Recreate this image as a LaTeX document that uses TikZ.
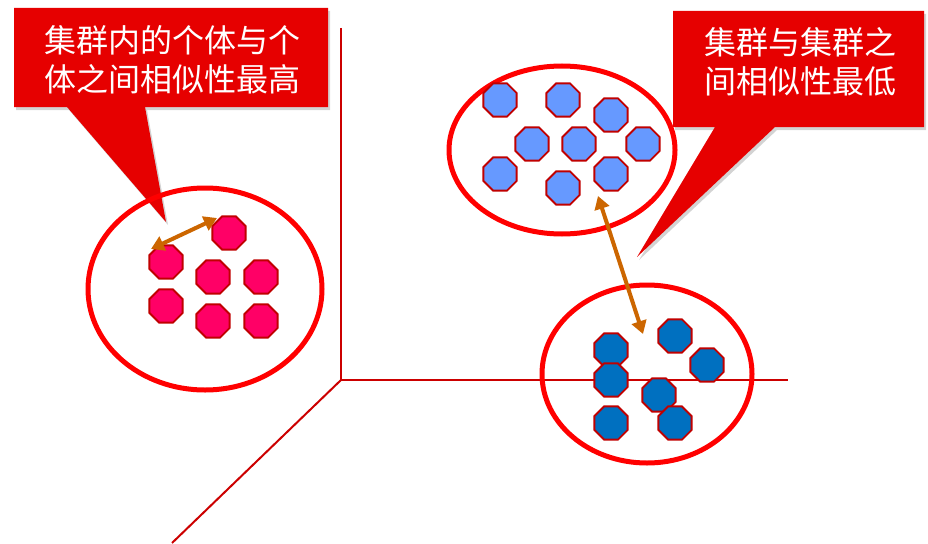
\documentclass[tikz,border=0pt]{standalone}
\usepackage{fontspec}
\newfontfamily\cjk{Noto Sans CJK SC}
\usetikzlibrary{shapes.geometric,shadows,arrows.meta}
\definecolor{axisred}{HTML}{CC0000}
\definecolor{ringred}{HTML}{FF0000}
\definecolor{calloutred}{HTML}{E60000}
\definecolor{pinkfill}{HTML}{FF0066}
\definecolor{lightblue}{HTML}{6699FF}
\definecolor{darkblue}{HTML}{0070C0}
\definecolor{edgered}{HTML}{C00000}
\definecolor{arrowbrown}{HTML}{CC6600}
\tikzset{
  oct/.style={regular polygon, regular polygon sides=8, minimum size=36pt, inner sep=0pt, draw=edgered, line width=1.8pt},
  pinkoct/.style={oct, fill=pinkfill},
  lboct/.style={oct, fill=lightblue},
  dboct/.style={oct, fill=darkblue},
  ring/.style={draw=ringred, line width=5pt},
  axis/.style={draw=axisred, line width=2pt},
  callout/.style={fill=calloutred, drop shadow={shadow xshift=2pt, shadow yshift=-3pt, opacity=0.35}},
  callouttext/.style={text=white, align=center, font=\cjk\fontsize{32}{39}\selectfont},
  link/.style={draw=arrowbrown, line width=4pt, {Triangle[length=13pt,width=15pt]}-{Triangle[length=13pt,width=15pt]}}
}
\begin{document}
\begin{tikzpicture}[x=1pt,y=-1pt]
\useasboundingbox (0,0) rectangle (928,543);
% axes
\coordinate (O) at (341,380);
\coordinate (Ytop) at (341,28);
\coordinate (Xend) at (788,380);
\coordinate (Zend) at (172,543);
\draw[axis] (Ytop) -- (O) -- (Xend);
\draw[axis] (O) -- (Zend);
% callouts
\path[callout] (14,8) -- (328,8) -- (328,107) -- (145,107) -- (166,222) -- (67,107) -- (14,107) -- cycle;
\node[callouttext] (lt) at (172,60) {集群内的个体与个\\体之间相似性最高};
\path[callout] (673,11) -- (924,11) -- (924,127) -- (775,127) -- (637,257) -- (715,127) -- (673,127) -- cycle;
\node[callouttext] (rt) at (800,62) {集群与集群之\\间相似性最低};
% rings
\draw[ring] (205,289) ellipse [x radius=117, y radius=101];
\draw[ring] (562,150) ellipse [x radius=113, y radius=84];
\draw[ring] (647,374) ellipse [x radius=105, y radius=89];
% pink cluster
\node[pinkoct] (p1) at (229,233) {};
\node[pinkoct] (p2) at (166,262) {};
\node[pinkoct] (p3) at (213,277) {};
\node[pinkoct] (p4) at (261,277) {};
\node[pinkoct] (p5) at (166,306) {};
\node[pinkoct] (p6) at (213,321) {};
\node[pinkoct] (p7) at (261,321) {};
% light blue cluster
\node[lboct] (a1) at (500,100) {};
\node[lboct] (a2) at (563,100) {};
\node[lboct] (a3) at (611,115) {};
\node[lboct] (a4) at (532,144) {};
\node[lboct] (a5) at (579,144) {};
\node[lboct] (a6) at (643,144) {};
\node[lboct] (a7) at (500,174) {};
\node[lboct] (a8) at (563,188) {};
\node[lboct] (a9) at (611,174) {};
% dark blue cluster
\node[dboct] (b1) at (675,336) {};
\node[dboct] (b2) at (611,350) {};
\node[dboct] (b3) at (707,365) {};
\node[dboct] (b4) at (611,380) {};
\node[dboct] (b5) at (659,395) {};
\node[dboct] (b6) at (611,423) {};
\node[dboct] (b7) at (675,423) {};
% arrows
\coordinate (l1) at (151,249);
\coordinate (l2) at (217,218);
\draw[link] (l1) -- (l2);
\coordinate (m1) at (598,196);
\coordinate (m2) at (643,334);
\draw[link] (m1) -- (m2);
\end{tikzpicture}
\end{document}
